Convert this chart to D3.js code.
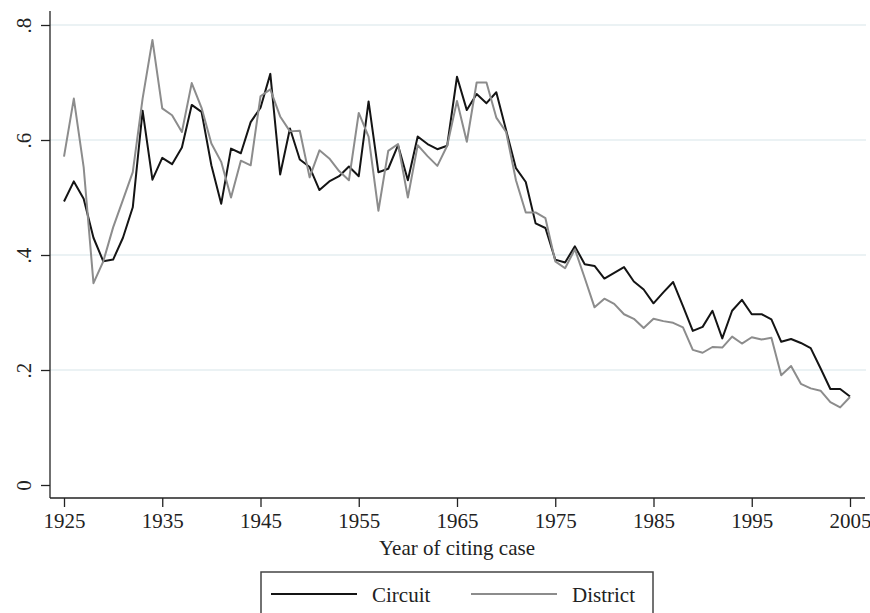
<!DOCTYPE html>
<html>
<head>
<meta charset="utf-8">
<script src="https://cdn.jsdelivr.net/npm/d3@7"></script>
<style>
	html, body { margin: 0; padding: 0; background: #fff; }
	svg { display: block; font-family: "Liberation Serif", "DejaVu Serif", serif; }
</style>
</head>
<body>
<svg id="chart"></svg>
<script>
// data
const years = d3.range(1925, 2006);
const circuit = [
	.493, .528, .498, .430, .389, .392, .430, .483, .651, .531,
	.569, .558, .587, .661, .649, .556, .489, .585, .577, .631,
	.656, .715, .540, .620, .566, .553, .513, .528, .537, .554,
	.537, .667, .544, .550, .591, .530, .606, .593, .584, .590,
	.710, .652, .680, .664, .683, .617, .551, .527, .455, .447,
	.392, .387, .415, .384, .381, .359, .369, .379, .354, .340,
	.316, .335, .353, .311, .268, .275, .303, .255, .303, .322,
	.297, .297, .288, .249, .254, .247, .238, .203, .167, .167,
	.154
];
const district = [
	.571, .672, .553, .351, .389, .448, .496, .544, .672, .774,
	.655, .643, .614, .699, .656, .594, .562, .500, .564, .556,
	.676, .688, .641, .615, .616, .535, .582, .568, .546, .530,
	.647, .606, .477, .581, .593, .500, .591, .572, .555, .590,
	.668, .597, .700, .700, .639, .614, .530, .474, .474, .464,
	.389, .377, .410, .360, .309, .324, .315, .297, .289, .273,
	.289, .285, .282, .274, .235, .230, .240, .239, .258, .246,
	.257, .253, .256, .191, .207, .176, .168, .164, .144, .135,
	.153
];
const xTicks = [1925, 1935, 1945, 1955, 1965, 1975, 1985, 1995, 2005];
const yTicks = [0, .2, .4, .6, .8];
const yTickLabels = ["0", ".2", ".4", ".6", ".8"];
const seriesNames = ["Circuit", "District"];

const width = 870;
const height = 613;
const COLOR = ["#141414", "#8c8c8c"];
const FONT = 21;

const svg = d3.select("#chart")
              .attr("width", width)
              .attr("height", height);

const xScale = d3.scaleLinear([1925, 2005], [64, 850]);
const yScale = d3.scaleLinear([0, .8], [485, 25]);

const axisLeftX = 50;
const axisBottomY = 498;

// gridlines
svg.append("g")
   .selectAll("line")
   .data(yTicks.filter(d => d > 0))
   .join("line")
   .attr("x1", axisLeftX)
   .attr("x2", 866)
   .attr("y1", d => yScale(d))
   .attr("y2", d => yScale(d))
   .attr("stroke", "#e4eef1")
   .attr("stroke-width", 1.4);

// y axis
const yAxis = d3.axisLeft(yScale)
                .tickValues(yTicks)
                .tickSize(9)
                .tickSizeOuter(0)
                .tickFormat((d, i) => yTickLabels[i]);

svg.append("g")
   .attr("transform", `translate(${axisLeftX}, 0)`)
   .call(yAxis)
   .call(g => g.select(".domain").remove())
   .call(g => g.selectAll(".tick line").attr("stroke", "#222").attr("stroke-width", 1.3))
   .call(g => g.selectAll(".tick text")
               .attr("x", null).attr("dy", null)
               .attr("text-anchor", "middle")
               .attr("transform", `translate(${31 - axisLeftX}, 0) rotate(-90)`)
               .attr("font-size", FONT)
               .attr("font-family", "Liberation Serif")
               .attr("fill", "#222"));

svg.append("line")
   .attr("x1", axisLeftX).attr("x2", axisLeftX)
   .attr("y1", 11).attr("y2", axisBottomY)
   .attr("stroke", "#222")
   .attr("stroke-width", 1.3);

// x axis
const xAxis = d3.axisBottom(xScale)
                .tickValues(xTicks)
                .tickSize(9)
                .tickSizeOuter(0)
                .tickFormat(d3.format("d"));

svg.append("g")
   .attr("transform", `translate(0, ${axisBottomY})`)
   .call(xAxis)
   .call(g => g.select(".domain").remove())
   .call(g => g.selectAll(".tick line").attr("stroke", "#222").attr("stroke-width", 1.3))
   .call(g => g.selectAll(".tick text")
               .attr("y", 30).attr("dy", null)
               .attr("font-size", FONT)
               .attr("font-family", "Liberation Serif")
               .attr("fill", "#222"));

svg.append("line")
   .attr("x1", axisLeftX).attr("x2", 865)
   .attr("y1", axisBottomY).attr("y2", axisBottomY)
   .attr("stroke", "#222")
   .attr("stroke-width", 1.3);

svg.append("text")
   .attr("x", 457)
   .attr("y", 555)
   .attr("text-anchor", "middle")
   .attr("font-size", FONT)
   .attr("fill", "#222")
   .text("Year of citing case");

// lines
const line = d3.line()
               .x((d, i) => xScale(years[i]))
               .y(d => yScale(d));

[circuit, district].forEach((s, i) => {
	svg.append("path")
	   .datum(s)
	   .attr("fill", "none")
	   .attr("stroke", COLOR[i])
	   .attr("stroke-width", 2)
	   .attr("stroke-linejoin", "round")
	   .attr("d", line);
});

// legend
const legend = svg.append("g");
legend.append("rect")
      .attr("x", 261)
      .attr("y", 572)
      .attr("width", 392)
      .attr("height", 60)
      .attr("fill", "#fff")
      .attr("stroke", "#444")
      .attr("stroke-width", 1.5);

const legendX = [271, 471];
seriesNames.forEach((name, i) => {
	legend.append("line")
	      .attr("x1", legendX[i]).attr("x2", legendX[i] + 86)
	      .attr("y1", 594).attr("y2", 594)
	      .attr("stroke", COLOR[i])
	      .attr("stroke-width", 2);
	legend.append("text")
	      .attr("x", legendX[i] + 101)
	      .attr("y", 602)
	      .attr("font-size", FONT)
	      .attr("fill", "#222")
	      .text(name);
});
</script>
</body>
</html>
